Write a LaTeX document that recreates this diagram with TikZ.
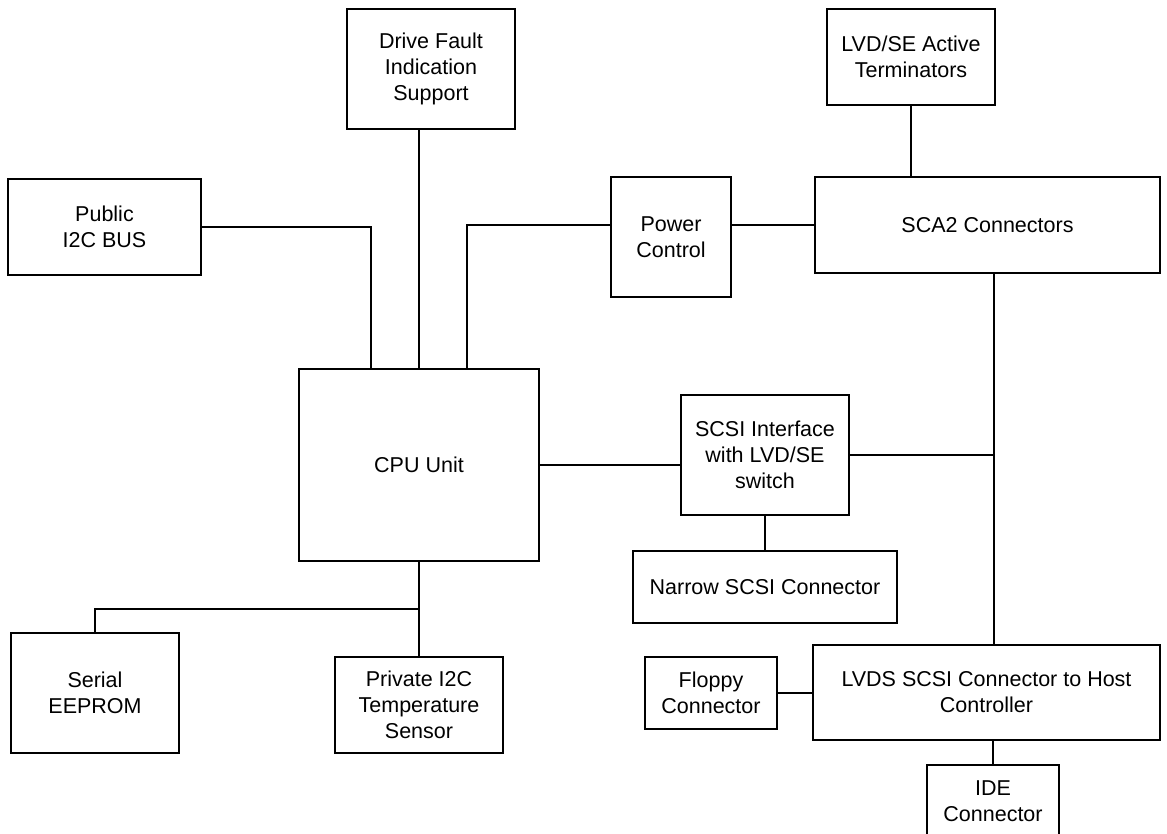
\documentclass[tikz,border=0pt]{standalone}
\usepackage{fontspec}
\setmainfont{Liberation Sans}
\usetikzlibrary{positioning,calc}

\begin{document}
\begin{tikzpicture}[
  x=1pt,y=-1pt,
  font=\fontsize{21.5}{26}\selectfont,
  blk/.style={draw,line width=1.3pt,align=center,inner sep=0pt},
  wire/.style={draw,line width=1.3pt},
  ]
\useasboundingbox (0,0) rectangle (1167,833);
\clip (0,0) rectangle (1167,833);

% ---- boxes ----
\node[blk,minimum width=168,minimum height=120] (drv) at (431,69) {Drive Fault\\Indication\\Support};
\node[blk,minimum width=168,minimum height=96] (term) at (911,57) {LVD/SE Active\\Terminators};
\node[blk,minimum width=193,minimum height=96] (pub) at (104.5,227) {Public\\I2C BUS};
\node[blk,minimum width=120,minimum height=120] (pwr) at (671,237) {Power\\Control};
\node[blk,minimum width=345,minimum height=96] (sca) at (987.5,225) {SCA2 Connectors};
\node[blk,minimum width=240,minimum height=192] (cpu) at (419,465) {CPU Unit};
\node[blk,minimum width=168,minimum height=120] (scsi) at (765,455) {SCSI Interface\\with LVD/SE\\switch};
\node[blk,minimum width=264,minimum height=72] (nar) at (765,587) {Narrow SCSI Connector};
\node[blk,minimum width=168,minimum height=120] (eep) at (95,693) {Serial\\EEPROM};
\node[blk,minimum width=168,minimum height=96] (temp) at (419,705) {Private I2C\\Temperature\\Sensor};
\node[blk,minimum width=132,minimum height=72] (flp) at (711,693) {Floppy\\Connector};
\node[blk,minimum width=347,minimum height=95] (host) at (986.5,692.5) {LVDS SCSI Connector to Host\\Controller};
\node[blk,minimum width=132,minimum height=72] (ide) at (993,801) {IDE\\Connector};

% ---- connectors ----
\coordinate (bus) at (994,455);
\coordinate (tee) at ($(cpu.south)!0.5!(temp.north)$);
\draw[wire] (pub.east) -| ([xshift=-48]cpu.north);
\draw[wire] (drv.south -| cpu.north) -- (cpu.north);
\draw[wire] ([xshift=48]cpu.north) |- (pwr.west |- sca.west);
\draw[wire] (pwr.east |- sca.west) -- (sca.west);
\draw[wire] (term.south) -- (term.south |- sca.north);
\draw[wire] (bus |- sca.south) -- (bus) -- (scsi.east);
\draw[wire] (bus) -- (bus |- host.north);
\draw[wire] (cpu.east) -- (cpu.east -| scsi.west);
\draw[wire] (scsi.south) -- (nar.north);
\draw[wire] (cpu.south) -- (temp.north);
\draw[wire] (eep.north) |- (tee);
\draw[wire] (flp.east) -- (flp.east -| host.west);
\draw[wire] (ide.north |- host.south) -- (ide.north);

\end{tikzpicture}
\end{document}
